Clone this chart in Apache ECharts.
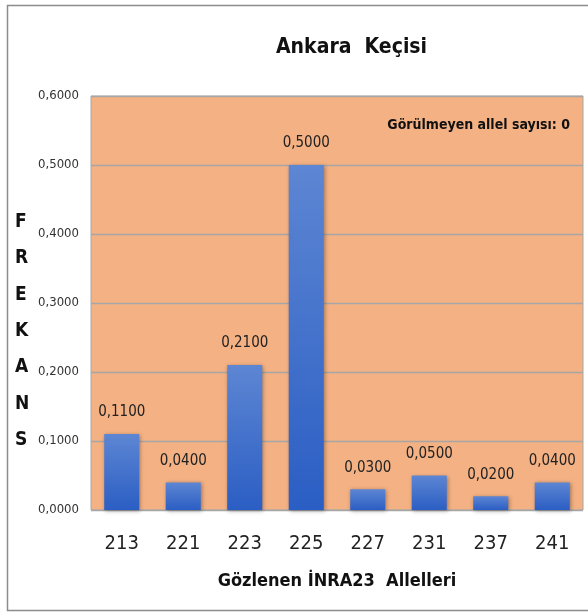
<!DOCTYPE html>
<html>
<head>
<meta charset="utf-8">
<script src="https://cdn.jsdelivr.net/npm/echarts@6/dist/echarts.min.js"></script>
<style>
  html, body { margin: 0; padding: 0; background: #fff; }
  #chart { width: 588px; height: 613px; }
</style>
</head>
<body>
<div id="chart"></div>
<script type="text/javascript">
  var alleles = ['213', '221', '223', '225', '227', '231', '237', '241'];
  var freqs = [0.11, 0.04, 0.21, 0.50, 0.03, 0.05, 0.02, 0.04];
  var yTicks = [0, 0.1, 0.2, 0.3, 0.4, 0.5, 0.6];
  var yTitle = 'FREKANS';

  var fnt = '"Liberation Sans Narrow", "DejaVu Sans Condensed", "Open Sans", sans-serif';
  function fmt(v) { return v.toFixed(4).replace('.', ','); }

  var myChart = echarts.init(document.getElementById('chart'));
  var option = {
    backgroundColor: '#fff',
    title: {
      text: 'Ankara  Keçisi',
      left: 271, top: 32,
      textStyle: { fontFamily: fnt, fontSize: 21, fontWeight: 'bold', color: '#111' }
    },
    graphic: [
      { type: 'rect', left: 5, top: 3, shape: { width: 620, height: 605 },
        style: { fill: 'none', stroke: '#8c8c8c', lineWidth: 1.5 }, silent: true },
      { type: 'text', right: 18, top: 118,
        style: { text: 'Görülmeyen allel sayısı: 0', font: 'bold 14px ' + fnt, fill: '#111' } },
      { type: 'text', left: 15, top: 204,
        style: { text: yTitle.split('').join('\n'), font: 'bold 19px ' + fnt, fill: '#111',
                 lineHeight: 36.3, align: 'left' } }
    ],
    grid: {
      left: 91, right: 5, top: 96, bottom: 103,
      show: true, backgroundColor: '#f4b183', borderColor: '#a6a6a6', borderWidth: 1
    },
    xAxis: {
      type: 'category',
      data: alleles,
      name: 'Gözlenen İNRA23  Allelleri',
      nameLocation: 'middle', nameGap: 62,
      nameTextStyle: { fontFamily: fnt, fontSize: 18, fontWeight: 'bold', color: '#111' },
      axisLine: { show: false },
      axisTick: { show: false },
      axisLabel: { fontFamily: fnt, fontSize: 20, color: '#222', margin: 24 }
    },
    yAxis: {
      type: 'value',
      min: 0, max: 0.6, interval: 0.1,
      axisLine: { show: false },
      axisTick: { show: false },
      splitLine: { lineStyle: { color: '#a6a6a6', width: 1.3 } },
      axisLabel: { fontFamily: fnt, fontSize: 13, color: '#333', margin: 12, formatter: function (v) { return fmt(v); } }
    },
    series: [
      {
        type: 'bar',
        data: freqs,
        barWidth: '57%',
        itemStyle: {
          color: new echarts.graphic.LinearGradient(0, 0, 0, 1, [
            { offset: 0, color: '#5d86d3' },
            { offset: 1, color: '#2b5ec4' }
          ]),
          shadowColor: 'rgba(0,0,0,0.35)', shadowBlur: 4, shadowOffsetX: 1, shadowOffsetY: 1
        },
        label: {
          show: true, position: 'top', distance: 14,
          fontFamily: fnt, fontSize: 15, color: '#222',
          formatter: function (p) { return fmt(p.value); }
        }
      }
    ]
  };
  myChart.setOption(option);
</script>
</body>
</html>
